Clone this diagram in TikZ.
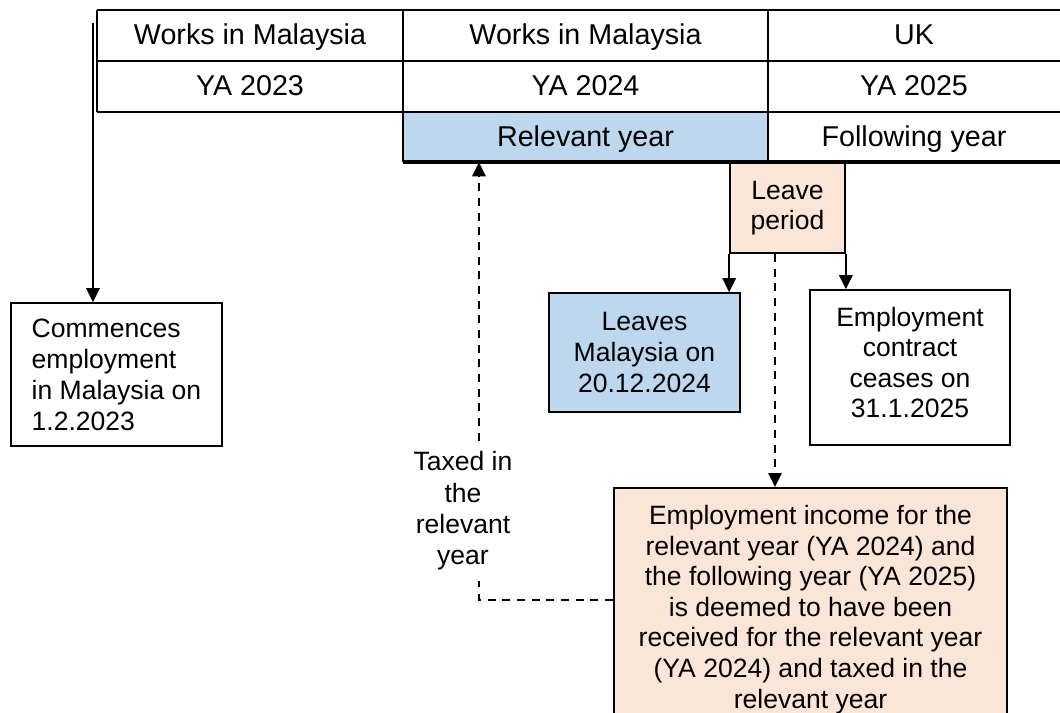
\documentclass[tikz,border=0pt]{standalone}
\usepackage{fontspec}
\setmainfont{Liberation Sans}
\usetikzlibrary{arrows.meta,calc}
\definecolor{cellblue}{RGB}{189,215,238}
\definecolor{salmon}{RGB}{251,229,214}
\begin{document}
\begin{tikzpicture}[x=0.75pt,y=-0.75pt,
  tabtext/.style={font=\fontsize{21.5pt}{25pt}\selectfont, inner sep=0pt, text height=15.5pt, text depth=4.5pt},
  boxtext/.style={font=\fontsize{19.9pt}{22.9pt}\selectfont},
  box/.style={draw=black, line width=1.3pt, boxtext, align=center, inner sep=0pt},
  tabline/.style={line width=1.5pt},
  arr/.style={line width=1.5pt, -{Triangle[length=10.5pt,width=10pt]}},
  darr/.style={arr, dash pattern=on 6pt off 5pt},
  taxlabel/.style={font=\fontsize{19.9pt}{23.5pt}\selectfont, fill=white, align=center, inner ysep=8pt, inner xsep=2pt}]
\useasboundingbox (0,0) rectangle (1060,713);
\fill[white] (0,0) rectangle (1060,713);
\clip (0,0) rectangle (1060,713);

% table cells
\node[fill=cellblue, minimum width=273.75pt, minimum height=37.5pt, tabtext] (rel) at (585.5,137) {};
\node[tabtext] (reltext) at (585.5,139) {Relevant year};
\node[tabtext] (fol) at (914,139) {Following year};
\node[tabtext] (c11) at (250,37) {Works in Malaysia};
\node[tabtext] (c12) at (585.5,37) {Works in Malaysia};
\node[tabtext] (c13) at (914,37) {UK};
\node[tabtext] (c21) at (250,88.5) {YA 2023};
\node[tabtext] (c22) at (585.5,88.5) {YA 2024};
\node[tabtext] (c23) at (914,88.5) {YA 2025};

% boxes
\node[box, fill=salmon, minimum width=86.25pt, minimum height=67.5pt] (leave) at (787.5,208) {Leave\\period};
\node[box, fill=cellblue, minimum width=143.25pt, minimum height=89.25pt] (leaves) at (644.5,352.5) {Leaves\\Malaysia on\\20.12.2024};
\node[box, minimum width=150pt, minimum height=116.25pt, text depth=7.5pt] (emp) at (910,367.5) {Employment\\contract\\ceases on\\31.1.2025};
\node[box, align=left, font=\fontsize{19.9pt}{23.3pt}\selectfont, minimum width=158.25pt, minimum height=107.25pt] (comm) at (116.5,374.5) {Commences\\employment\\in Malaysia on\\1.2.2023};
\node[box, fill=salmon, anchor=north, minimum width=294.75pt, inner ysep=13.3pt] (big) at (810.5,487) {Employment income for the\\relevant year (YA 2024) and\\the following year (YA 2025)\\is deemed to have been\\received for the relevant year\\(YA 2024) and taxed in the\\relevant year};

% table lines
\draw[tabline] (97,10) -- (1062,10);
\draw[tabline] (97,61) -- (1062,61);
\draw[tabline] (97,112) -- (1062,112);
\draw[tabline] (97,10) -- (97,112);
\draw[tabline] (403,10) -- (403,162);
\draw[tabline] (768,10) -- (768,162);
\draw[line width=2.6pt] (403,162) -- (1062,162);

% connectors
\coordinate (start) at (93,23);
\draw[arr] (start) -- (start |- comm.north);
\draw[arr] (leave.south west) -- (leave.south west |- leaves.north);
\draw[arr] (leave.south east) -- (leave.south east |- emp.north);
\draw[darr] ([xshift=-9.4pt]leave.south) -- ([xshift=-9.4pt]leave.south |- big.north);
\coordinate (corner) at (479,600);
\draw[darr] (big.west |- corner) -- (corner) -- (corner |- rel.south);
\node[taxlabel] (taxed) at (463,511) {Taxed in\\the\\relevant\\year};
\end{tikzpicture}
\end{document}
